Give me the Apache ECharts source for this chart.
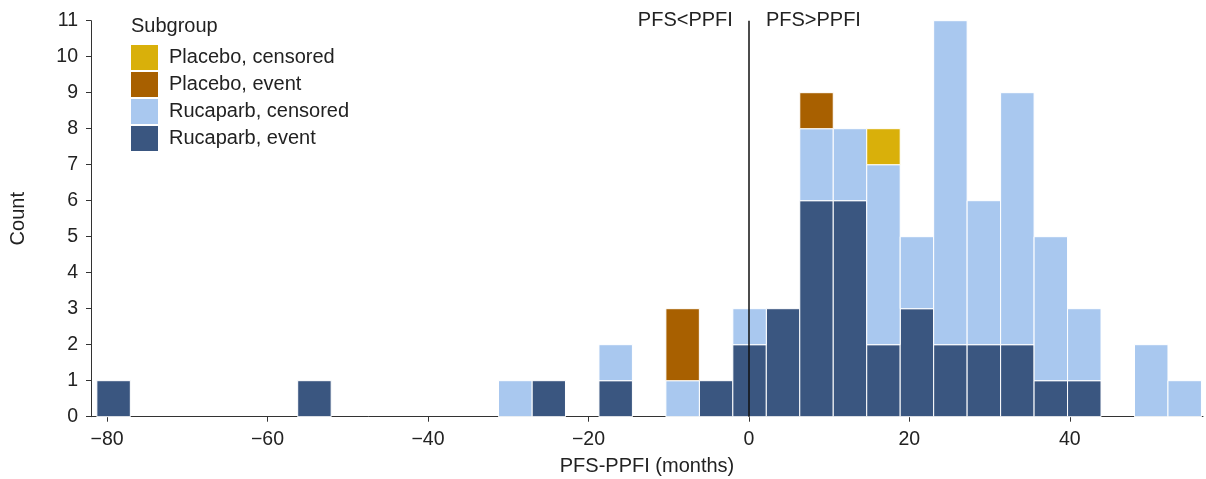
<!DOCTYPE html>
<html>
<head>
<meta charset="utf-8">
<script src="https://cdn.jsdelivr.net/npm/echarts@6/dist/echarts.min.js"></script>
<style>
html,body{margin:0;padding:0;background:#fff;}
#chart{width:1206px;height:479px;}
</style>
</head>
<body>
<div id="chart"></div>
<script>
// Histogram bins: start of first bin and bin width (months)
const binStart = -81.27;
const binWidth = 4.172;
// Counts per bin (33 bins)
const rucaparbEvent    = [1,0,0,0,0,0,1,0,0,0,0,0,0,1,0,1,0,0,1,2,3,6,6,2,3,2,2,2,1,1,0,0,0];
const rucaparbCensored = [0,0,0,0,0,0,0,0,0,0,0,0,1,0,0,1,0,1,0,1,0,2,2,5,2,9,4,7,4,2,0,2,1];
const placeboEvent     = [0,0,0,0,0,0,0,0,0,0,0,0,0,0,0,0,0,2,0,0,0,1,0,0,0,0,0,0,0,0,0,0,0];
const placeboCensored  = [0,0,0,0,0,0,0,0,0,0,0,0,0,0,0,0,0,0,0,0,0,0,0,1,0,0,0,0,0,0,0,0,0];
const groupNames = ['Rucaparb, event','Rucaparb, censored','Placebo, event','Placebo, censored'];
const legendOrder = ['Placebo, censored','Placebo, event','Rucaparb, censored','Rucaparb, event'];
const colors = ['#3a5680','#a9c8ef','#a86000','#d9b00a'];
const xTicks = [-80,-60,-40,-20,0,20,40];
const regionLabels = ['PFS<PPFI','PFS>PPFI'];

const FONT = 'Liberation Sans';
const TXT = '#222222';

const groups = [rucaparbEvent, rucaparbCensored, placeboEvent, placeboCensored];
const base = new Array(rucaparbEvent.length).fill(0);
const series = groups.map((arr, gi) => {
  const data = [];
  arr.forEach((v, i) => {
    if (v > 0) {
      const x0 = binStart + i * binWidth;
      data.push([x0, x0 + binWidth, base[i], base[i] + v]);
      base[i] += v;
    }
  });
  return {
    type: 'custom',
    name: groupNames[gi],
    itemStyle: { color: colors[gi] },
    encode: { x: [0, 1], y: [2, 3] },
    data: data,
    z: 2,
    renderItem: function (params, api) {
      const p0 = api.coord([api.value(0), api.value(3)]);
      const p1 = api.coord([api.value(1), api.value(2)]);
      return {
        type: 'rect',
        shape: { x: p0[0], y: p0[1], width: p1[0] - p0[0], height: p1[1] - p0[1] },
        style: { fill: colors[gi], stroke: '#ffffff', lineWidth: 1 }
      };
    }
  };
});

const regionLabelStyle = { show: true, color: TXT, fontSize: 20, fontFamily: FONT };
series.push({
  type: 'scatter',
  symbolSize: 0,
  silent: true,
  z: 5,
  itemStyle: { opacity: 1 },
  emphasis: { disabled: true },
  data: [
    { value: [0, 11], label: Object.assign({}, regionLabelStyle, { position: 'left', distance: 16, formatter: regionLabels[0] }) },
    { value: [0, 11], label: Object.assign({}, regionLabelStyle, { position: 'right', distance: 17, formatter: regionLabels[1] }) }
  ],
  markLine: {
    silent: true,
    symbol: 'none',
    label: { show: false },
    lineStyle: { color: '#111', width: 1.5, type: 'solid', opacity: 1 },
    data: [{ xAxis: 0 }],
    z: 6
  }
});

const chart = echarts.init(document.getElementById('chart'), null, { renderer: 'canvas' });
chart.setOption({
  animation: false,
  backgroundColor: '#fff',
  textStyle: { fontFamily: FONT },
  grid: { left: 91, right: 3, top: 20.7, bottom: 62.3, containLabel: false, outerBoundsMode: 'none' },
  legend: {
    data: legendOrder.map((n) => ({ name: n, icon: 'rect' })),
    orient: 'vertical',
    left: 131,
    top: 45,
    itemWidth: 27,
    itemHeight: 25,
    itemGap: 2,
    textStyle: { fontSize: 20, color: TXT, fontFamily: FONT, padding: [0, 0, 0, 6] },
    padding: 0,
    selectedMode: false
  },
  graphic: [{
    type: 'text',
    x: 131,
    y: 26,
    style: { text: 'Subgroup', fontSize: 20, fill: TXT, fontFamily: FONT, verticalAlign: 'middle' }
  }],
  xAxis: {
    type: 'value',
    min: -82,
    max: 56.6,
    name: 'PFS-PPFI (months)',
    nameLocation: 'middle',
    nameGap: 40,
    nameTextStyle: { fontSize: 20, color: TXT, fontFamily: FONT },
    splitLine: { show: false },
    axisLine: { onZero: false, lineStyle: { color: '#333', width: 1 } },
    axisTick: { show: true, length: 5, customValues: xTicks, lineStyle: { color: '#333' } },
    axisLabel: { fontSize: 19.5, color: TXT, fontFamily: FONT, margin: 13, customValues: xTicks,
      formatter: (v) => (v < 0 ? '\u2212' + Math.abs(v) : String(v)) }
  },
  yAxis: {
    type: 'value',
    min: 0,
    max: 11,
    interval: 1,
    name: 'Count',
    nameLocation: 'middle',
    nameGap: 63,
    nameTextStyle: { fontSize: 20, color: TXT, fontFamily: FONT },
    splitLine: { show: false },
    axisLine: { show: true, onZero: false, lineStyle: { color: '#333', width: 1 } },
    axisTick: { show: true, length: 5, lineStyle: { color: '#333' } },
    axisLabel: { fontSize: 19.5, color: TXT, fontFamily: FONT, margin: 13 }
  },
  series: series
});
</script>
</body>
</html>
